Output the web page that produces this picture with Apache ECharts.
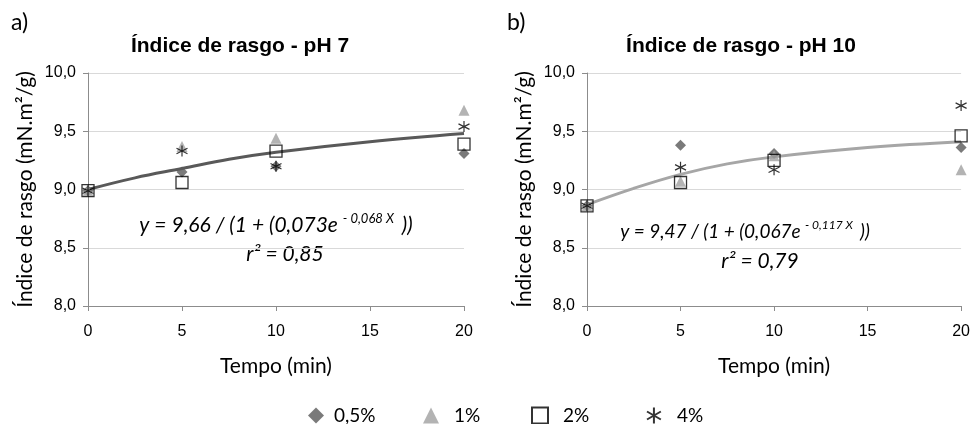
<!DOCTYPE html>
<html>
<head>
<meta charset="utf-8">
<script src="https://cdn.jsdelivr.net/npm/echarts@6/dist/echarts.min.js"></script>
<style>
  html, body { margin: 0; padding: 0; background: #fff; }
  #chart { width: 973px; height: 424px; }
</style>
</head>
<body>
<div id="chart"></div>
<script>
// tempos (min)
var tempos = [0, 5, 10, 20];
var seriesNames = ['0,5%', '1%', '2%', '4%'];

// pH 7
var ph7_05 = [8.99, 9.15, 9.20, 9.31];
var ph7_1 = [8.99, 9.37, 9.44, 9.68];
var ph7_2 = [8.99, 9.06, 9.33, 9.39];
var ph7_4 = [8.99, 9.33, 9.20, 9.54];

// pH 10
var ph10_05 = [8.86, 9.38, 9.31, 9.36];
var ph10_1 = [8.86, 9.07, 9.29, 9.17];
var ph10_2 = [8.86, 9.06, 9.25, 9.46];
var ph10_4 = [8.86, 9.19, 9.17, 9.72];

// curvas de ajuste
var curveX = [0, 2.5, 5, 7.5, 10, 15, 20];
var curvePh7 = [9.00, 9.10, 9.18, 9.26, 9.32, 9.41, 9.48];
var curvePh10 = [8.87, 9.01, 9.13, 9.22, 9.28, 9.36, 9.41];

var yTicks = ['8,0', '8,5', '9,0', '9,5', '10,0'];

var asterisk = 'path://M5,0L5,10M0.67,2.5L9.33,7.5M0.67,7.5L9.33,2.5';
var symbols = ['diamond', 'triangle', 'rect', asterisk];
var sizes = [11, 11, 12, 11];
var styles = [
  { color: '#595959' },
  { color: '#a0a0a0' },
  { color: 'rgba(0,0,0,0)', borderColor: '#000', borderWidth: 1.3 },
  { color: '#000', borderColor: '#000', borderWidth: 1.2 }
];

function pairs(xs, ys) {
  return xs.map(function (x, i) { return [x, ys[i]]; });
}

var chart = echarts.init(document.getElementById('chart'));

var axisFont = { fontFamily: 'Liberation Sans', fontSize: 16, color: '#000' };
var nameFont = { fontFamily: 'Lato', fontSize: 21, color: '#000' };

function xAx(idx) {
  return {
    gridIndex: idx, type: 'value', min: 0, max: 20, interval: 5,
    name: 'Tempo (min)', nameLocation: 'middle', nameGap: 50,
    nameTextStyle: nameFont,
    axisLine: { lineStyle: { color: '#8c8c8c', width: 1 } },
    axisTick: { show: true, length: 5, lineStyle: { color: '#8c8c8c' } },
    axisLabel: Object.assign({ margin: 18 }, axisFont),
    splitLine: { show: false }
  };
}
function yAx(idx) {
  return {
    gridIndex: idx, type: 'value', min: 8, max: 10, interval: 0.5,
    name: 'Índice de rasgo (mN.m²/g)', nameLocation: 'middle', nameGap: 52,
    nameRotate: 90, nameTextStyle: nameFont,
    axisLine: { show: true, lineStyle: { color: '#8c8c8c', width: 1 } },
    axisTick: { show: true, length: 5, lineStyle: { color: '#8c8c8c' } },
    axisLabel: Object.assign({
      margin: 12,
      formatter: function (v) { return yTicks[Math.round((v - 8) * 2)]; }
    }, axisFont),
    splitLine: { lineStyle: { color: '#d9d9d9', width: 1 } }
  };
}

var series = [];
var panels = [[ph7_05, ph7_1, ph7_2, ph7_4], [ph10_05, ph10_1, ph10_2, ph10_4]];
var curves = [curvePh7, curvePh10];
var curveColors = ['#595959', '#a6a6a6'];

panels.forEach(function (sets, p) {
  series.push({
    type: 'line', xAxisIndex: p, yAxisIndex: p, smooth: 0.4,
    showSymbol: false, silent: true, z: 1,
    lineStyle: { color: curveColors[p], width: 3 },
    data: pairs(curveX, curves[p])
  });
  sets.forEach(function (vals, i) {
    series.push({
      name: seriesNames[i], type: 'scatter', xAxisIndex: p, yAxisIndex: p,
      symbol: symbols[i], symbolSize: sizes[i], z: 2 + i,
      itemStyle: styles[i],
      data: pairs(tempos, vals)
    });
  });
});

function eqRich(fs) {
  return {
    m: { fontFamily: 'Lato', fontSize: fs, fontStyle: 'italic', color: '#000', lineHeight: 26 },
    s: { fontFamily: 'Lato', fontSize: Math.round(fs * 0.62), fontStyle: 'italic', color: '#000', verticalAlign: 'top', lineHeight: 26, padding: [0, 0, 10, 0] }
  };
}

function eq(cx, y, a, b, c, r, rcx, fs) {
  return [
    { type: 'text', x: cx, y: y, style: {
      text: '{m|y = ' + a + ' / (1 + (' + b + 'e }{s|- ' + c + ' X }{m| ))}',
      rich: eqRich(fs), textAlign: 'center', textVerticalAlign: 'top' } },
    { type: 'text', x: rcx, y: y + 32, style: {
      text: 'r² = ' + r, font: 'italic 21px Lato', fill: '#000',
      textAlign: 'center', textVerticalAlign: 'top' } }
  ];
}

var legendLefts = [303, 418, 526, 641];
var legends = seriesNames.map(function (n, i) {
  return {
    left: legendLefts[i], top: 401, itemWidth: 16, itemHeight: 16,
    data: [n],
    textStyle: { fontFamily: 'Lato', fontSize: 19, color: '#000', padding: [0, 0, 0, i === 0 ? 5 : 10] }
  };
});

chart.setOption({
  animation: false,
  backgroundColor: '#fff',
  title: [
    { text: 'Índice de rasgo - pH 7', left: 235, top: 31, textAlign: 'center',
      textStyle: { fontFamily: 'Liberation Sans', fontSize: 21, fontWeight: 'bold', color: '#000' } },
    { text: 'Índice de rasgo - pH 10', left: 736, top: 31, textAlign: 'center',
      textStyle: { fontFamily: 'Liberation Sans', fontSize: 21, fontWeight: 'bold', color: '#000' } }
  ],
  grid: [
    { left: 88, top: 73, width: 376, height: 233 },
    { left: 587, top: 73, width: 375, height: 233 }
  ],
  xAxis: [xAx(0), xAx(1)],
  yAxis: [yAx(0), yAx(1)],
  legend: legends,
  graphic: [
    { type: 'text', left: 11, top: 11, style: { text: 'a)', font: '23px Lato', fill: '#000' } },
    { type: 'text', left: 507, top: 11, style: { text: 'b)', font: '23px Lato', fill: '#000' } }
  ].concat(eq(276, 212, '9,66', '0,073', '0,068', '0,85', 285, 21))
   .concat(eq(745, 219, '9,47', '0,067', '0,117', '0,79', 760, 19)),
  series: series
});
</script>
</body>
</html>
